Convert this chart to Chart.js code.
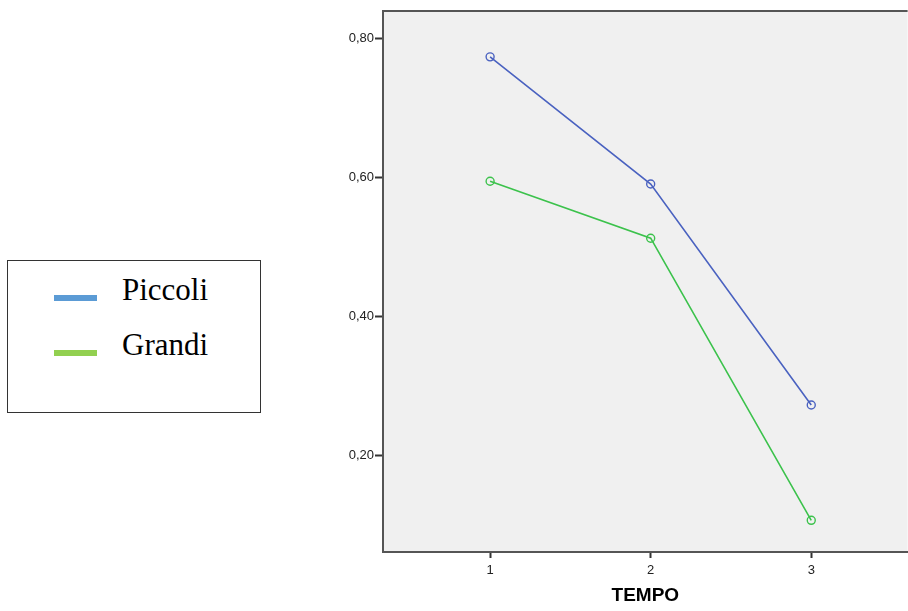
<!DOCTYPE html>
<html>
<head>
<meta charset="utf-8">
<script src="https://cdn.jsdelivr.net/npm/chart.js@4"></script>
<style>
  body { margin: 0; background: #fff; width: 908px; height: 611px; position: relative; overflow: hidden; }
  #legend {
    position: absolute; left: 7px; top: 260px; width: 252px; height: 151px;
    border: 1px solid #333; font-family: "Liberation Serif", "Times New Roman", serif; font-size: 31px; color: #000;
  }
  .item { position: absolute; left: 46px; }
  .swatch { position: absolute; left: 0; width: 43px; height: 6px; }
  .label { position: absolute; left: 68px; white-space: nowrap; }
  #wrap { position: absolute; left: 300px; top: 0; width: 613px; height: 611px; }
</style>
</head>
<body>
<div id="legend">
  <div class="item" style="top:11px"><div class="swatch" style="top:23px;background:#5b9bd5"></div><div class="label">Piccoli</div></div>
  <div class="item" style="top:66px"><div class="swatch" style="top:23px;background:#92d050"></div><div class="label">Grandi</div></div>
</div>
<div id="wrap"><canvas id="chart"></canvas></div>
<script>
const tempo = [1, 2, 3];
const piccoli = [0.773, 0.590, 0.272];
const grandi = [0.594, 0.512, 0.106];
const yTicks = [0.2, 0.4, 0.6, 0.8];

const plotFrame = {
  id: "plotFrame",
  beforeDraw: (chart) => {
    const { ctx, chartArea: a } = chart;
    ctx.save();
    ctx.fillStyle = "#f0f0f0";
    ctx.fillRect(a.left, a.top, a.right - a.left, a.bottom - a.top);
    ctx.restore();
  },
  afterDraw: (chart) => {
    const { ctx, chartArea: a } = chart;
    ctx.save();
    ctx.strokeStyle = "#555";
    ctx.lineWidth = 2;
    ctx.beginPath();
    ctx.moveTo(a.left, a.top);
    ctx.lineTo(a.right, a.top);
    ctx.stroke();
    ctx.restore();
  },
};

const mk = (data) => tempo.map((t, i) => ({ x: t, y: data[i] }));

new Chart(document.querySelector("#chart"), {
  type: "line",
  data: {
    datasets: [
      {
        label: "Piccoli",
        data: mk(piccoli),
        borderColor: "#4a62c0",
        pointBorderColor: "#4a62c0",
        pointBackgroundColor: "rgba(0,0,0,0)",
        borderWidth: 1.6,
        pointRadius: 4,
        pointBorderWidth: 1.4,
      },
      {
        label: "Grandi",
        data: mk(grandi),
        borderColor: "#3cc24c",
        pointBorderColor: "#3cc24c",
        pointBackgroundColor: "rgba(0,0,0,0)",
        borderWidth: 1.6,
        pointRadius: 4,
        pointBorderWidth: 1.4,
      },
    ],
  },
  options: {
    responsive: true,
    maintainAspectRatio: false,
    animation: false,
    layout: { padding: { top: 11, right: 0, left: 0, bottom: 0 } },
    plugins: { legend: { display: false }, tooltip: { enabled: false } },
    scales: {
      x: {
        type: "linear",
        min: 0.333,
        max: 3.6,
        afterFit: (s) => { s.height = 59; },
        afterBuildTicks: (s) => { s.ticks = tempo.map((v) => ({ value: v })); },
        grid: { drawOnChartArea: false, drawTicks: true, tickLength: 6, tickColor: "#333", tickWidth: 2 },
        border: { color: "#555", width: 2 },
        ticks: { color: "#222", font: { family: "Liberation Sans, Arial", size: 13 }, padding: 5 },
        title: { display: true, text: "TEMPO", color: "#000", font: { family: "Liberation Sans, Arial", size: 19, weight: "bold" }, padding: { top: 12 } },
      },
      y: {
        min: 0.0604,
        max: 0.839,
        afterFit: (s) => { s.width = 83; },
        afterBuildTicks: (s) => { s.ticks = yTicks.map((v) => ({ value: v })); },
        grid: { drawOnChartArea: false, drawTicks: true, tickLength: 8, tickColor: "#333", tickWidth: 2 },
        border: { color: "#555", width: 2 },
        ticks: {
          color: "#222",
          font: { family: "Liberation Sans, Arial", size: 13 },
          padding: 1,
          callback: (v) => v.toFixed(2).replace(".", ","),
        },
      },
    },
  },
  plugins: [plotFrame],
});
</script>
</body>
</html>
